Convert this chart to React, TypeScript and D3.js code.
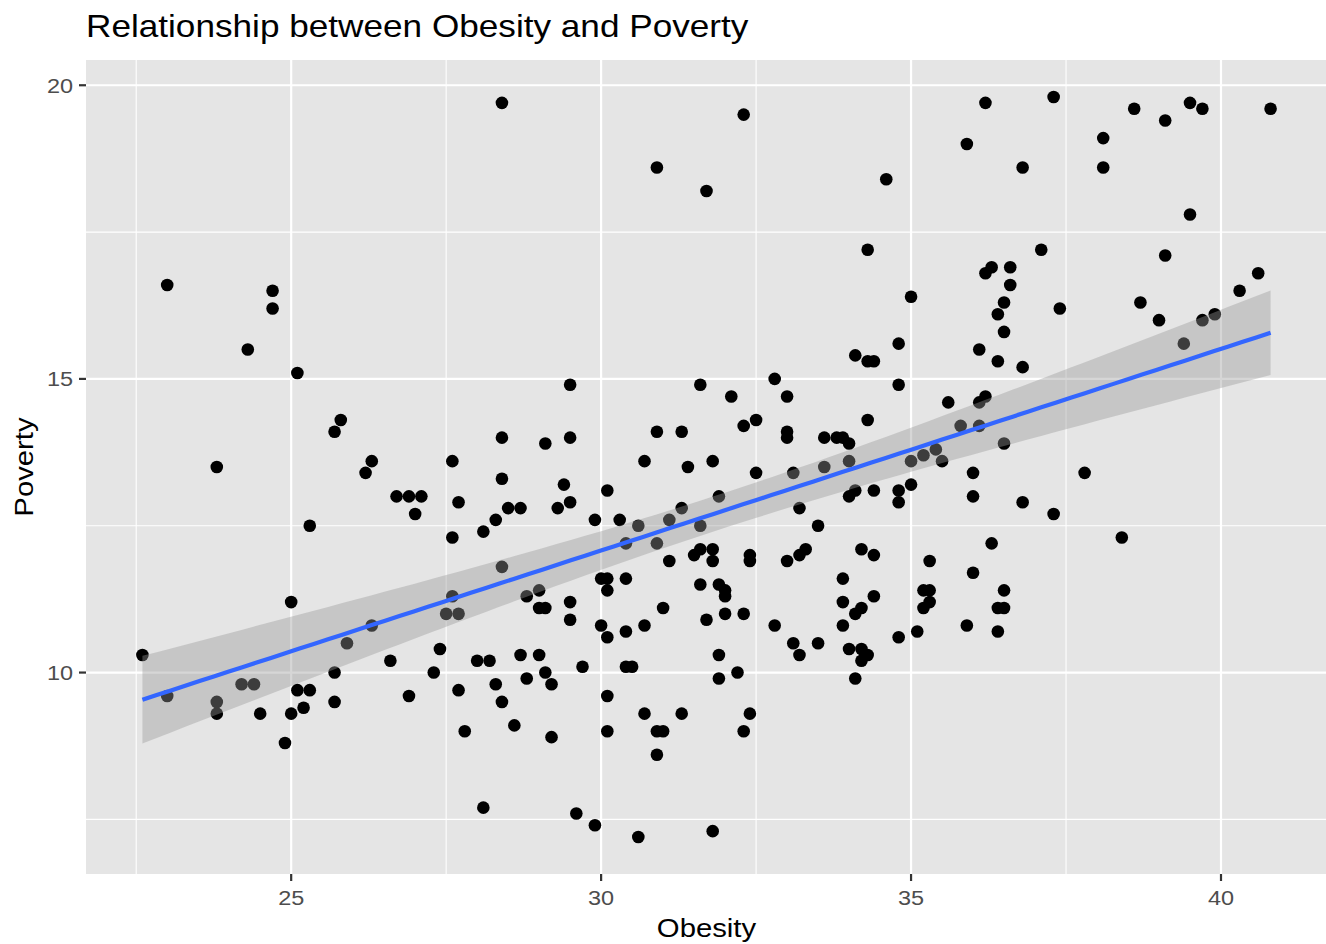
import React, { useEffect, useRef } from 'react';
import * as d3 from 'd3';

const obesity = [
  23.0, 24.7, 24.7, 24.3, 25.1, 25.8, 25.7, 26.3, 26.2, 23.8,
  26.7, 25.3, 25.0, 22.6, 26.3, 25.9, 26.6, 25.7, 23.0, 23.8,
  23.8, 24.2, 24.4, 25.1, 25.3, 24.5, 25.0, 25.2, 25.7, 24.9,
  28.4, 30.9, 31.7, 29.5, 31.6, 28.4, 29.1, 29.5, 27.6, 30.9,
  31.3, 30.7, 31.4, 31.8, 28.4, 26.9, 27.1, 27.0, 27.7, 27.6,
  28.1, 28.3, 28.5, 28.7, 28.4, 29.3, 29.4, 29.5, 30.1, 29.9,
  30.3, 30.6, 30.4, 30.9, 31.1, 31.3, 31.6, 31.5, 31.6, 31.8,
  31.8, 31.1, 31.6, 31.7, 27.6, 27.5, 27.7, 28.8, 29.0, 29.0,
  29.1, 29.5, 29.5, 30.0, 30.1, 30.1, 30.4, 30.0, 30.1, 30.4,
  30.7, 31.0, 27.4, 27.3, 26.9, 28.0, 28.2, 28.7, 29.0, 28.8,
  29.1, 29.2, 28.3, 27.7, 28.4, 29.7, 30.4, 30.5, 30.1, 30.7,
  31.3, 30.9, 31.0, 30.9, 30.1, 27.8, 28.6, 29.2, 28.1, 29.6,
  29.9, 30.6, 31.8,
  32.3, 36.2, 35.9, 36.8, 34.6, 34.3, 35.0, 36.2, 36.3, 36.6,
  36.6, 36.5, 36.4, 36.5, 36.1, 36.4, 36.8, 34.8, 34.1, 34.3,
  34.4, 34.8, 32.8, 32.1, 33.0, 32.3, 32.5, 33.0, 33.0, 33.6,
  33.8, 33.9, 34.0, 34.3, 35.6, 36.2, 36.1, 35.8, 36.1, 36.5,
  34.0, 33.6, 35.0, 35.2, 35.4, 35.5, 32.5, 33.1, 36.0, 31.9,
  34.0, 34.1, 34.4, 34.8, 34.8, 35.0, 36.0, 36.8, 33.2, 33.5,
  32.4, 32.4, 33.0, 33.2, 33.3, 34.2, 34.4, 33.9, 33.9, 34.2,
  34.1, 34.4, 33.9, 34.0, 34.2, 34.3, 34.2, 34.1, 33.5, 33.1,
  33.2, 32.8, 34.8, 35.1, 35.2, 35.3, 35.3, 35.2, 35.3, 35.9,
  36.0, 36.3, 36.5, 36.4, 36.5, 36.4, 31.9, 32.0, 32.0, 32.0,
  32.3, 31.9, 32.2, 31.9, 32.4, 32.3,
  37.3, 38.6, 39.1, 39.5, 39.7, 40.8, 38.1, 38.1, 39.5, 37.1,
  39.1, 40.6, 40.3, 38.7, 39.0, 39.7, 39.9, 39.4, 37.4, 37.8,
  37.3, 38.4,
];

const poverty = [
  16.6, 16.5, 16.2, 15.5, 15.1, 14.3, 14.1, 13.6, 13.4, 13.5,
  13.0, 12.5, 11.2, 10.3, 10.8, 10.5, 10.2, 10.0, 9.6, 9.5,
  9.3, 9.8, 9.8, 9.7, 9.7, 9.3, 9.3, 9.4, 9.5, 8.8,
  19.7, 18.6, 18.2, 14.9, 14.9, 14.0, 13.9, 14.0, 13.6, 14.1,
  14.1, 13.6, 13.5, 13.6, 13.3, 13.0, 13.0, 12.7, 12.9, 12.3,
  12.4, 12.6, 12.8, 12.8, 11.8, 12.8, 13.2, 12.9, 13.1, 12.6,
  12.6, 12.5, 12.2, 12.2, 12.6, 12.8, 12.5, 12.0, 12.1, 12.1,
  11.9, 11.9, 11.5, 10.9, 11.3, 11.0, 11.0, 11.3, 11.4, 11.1,
  11.1, 11.2, 10.9, 11.6, 11.6, 11.4, 11.6, 10.8, 10.6, 10.7,
  10.8, 11.1, 10.4, 10.0, 9.6, 10.2, 10.2, 10.3, 10.3, 9.9,
  10.0, 9.8, 9.8, 9.7, 9.5, 10.1, 10.1, 10.1, 9.6, 9.3,
  9.3, 9.0, 9.0, 8.6, 9.0, 9.0, 9.1, 8.9, 7.7, 7.6,
  7.4, 7.2, 7.3,
  19.5, 19.7, 19.0, 18.6, 18.4, 17.2, 16.4, 16.8, 16.9, 16.9,
  16.6, 16.3, 16.1, 15.8, 15.5, 15.3, 15.2, 15.6, 15.4, 15.3,
  15.3, 14.9, 15.0, 14.7, 14.7, 14.2, 14.3, 14.1, 14.0, 14.0,
  14.0, 14.0, 13.9, 14.3, 14.6, 14.7, 14.6, 14.2, 14.2, 13.9,
  13.6, 13.5, 13.6, 13.7, 13.8, 13.6, 13.4, 13.4, 13.4, 13.0,
  13.0, 13.1, 13.1, 13.1, 12.9, 13.2, 13.0, 12.9, 12.8, 12.5,
  12.0, 11.9, 11.9, 12.0, 12.1, 12.1, 12.0, 11.6, 11.2, 11.1,
  11.0, 11.3, 10.8, 10.4, 10.4, 10.3, 10.2, 9.9, 10.5, 10.5,
  10.3, 10.8, 10.6, 10.7, 11.4, 11.4, 11.2, 11.1, 11.9, 10.8,
  11.7, 12.2, 11.4, 11.1, 11.1, 10.7, 11.5, 11.4, 11.3, 11.0,
  11.0, 10.3, 10.0, 9.9, 9.3, 9.0,
  19.8, 19.6, 19.4, 19.7, 19.6, 19.6, 19.1, 18.6, 17.8, 17.2,
  17.1, 16.8, 16.5, 16.3, 16.0, 16.0, 16.1, 15.6, 16.2, 13.4,
  12.7, 12.3,
];

const xMajor = [25, 30, 35, 40];
const xMinor = [22.5, 27.5, 32.5, 37.5];
const yMajor = [10, 15, 20];
const yMinor = [7.5, 12.5, 17.5];

const font = '"Liberation Sans", Arial, Helvetica, sans-serif';
// the original font runs a bit wider than Liberation Sans at the same height
const stretch = 1.145;

const App = () => {
  const ref = useRef<SVGSVGElement>(null);

  useEffect(() => {
    const width = 1326;
    const height = 944;
    const margin = { top: 60, right: -1, bottom: 70, left: 86 };

    const svg = d3.select(ref.current);
    svg.selectAll('*').remove();
    svg.attr('width', width).attr('height', height);

    // text helper: place at (x, y), optional rotation, widened horizontally
    const label = (txt: string, x: number, y: number, size: number, color: string,
                   anchor = 'start', rotate = 0, dy = '0') => {
      svg.append('g')
        .attr('transform', `translate(${x},${y}) rotate(${rotate}) scale(${stretch},1)`)
        .append('text')
        .attr('text-anchor', anchor)
        .attr('dy', dy)
        .attr('font-family', font)
        .attr('font-size', size)
        .attr('fill', color)
        .text(txt);
    };

    const data = obesity.map((o, i) => ({ x: o, y: poverty[i] }));

    // ggplot-style 5% expansion
    const xExt = d3.extent(obesity) as [number, number];
    const yExt = d3.extent(poverty) as [number, number];
    const xPad = (xExt[1] - xExt[0]) * 0.05;
    const yPad = (yExt[1] - yExt[0]) * 0.05;

    const x = d3.scaleLinear()
      .domain([xExt[0] - xPad, xExt[1] + xPad])
      .range([margin.left, width - margin.right]);
    const y = d3.scaleLinear()
      .domain([yExt[0] - yPad, yExt[1] + yPad])
      .range([height - margin.bottom, margin.top]);

    // panel
    svg.append('rect')
      .attr('x', margin.left)
      .attr('y', margin.top)
      .attr('width', width - margin.right - margin.left)
      .attr('height', height - margin.bottom - margin.top)
      .attr('fill', '#E5E5E5');

    const grid = svg.append('g').attr('stroke', '#FFFFFF');
    xMinor.forEach(v => grid.append('line')
      .attr('x1', x(v)).attr('x2', x(v))
      .attr('y1', margin.top).attr('y2', height - margin.bottom)
      .attr('stroke-width', 1.1));
    yMinor.forEach(v => grid.append('line')
      .attr('y1', y(v)).attr('y2', y(v))
      .attr('x1', margin.left).attr('x2', width - margin.right)
      .attr('stroke-width', 1.1));
    xMajor.forEach(v => grid.append('line')
      .attr('x1', x(v)).attr('x2', x(v))
      .attr('y1', margin.top).attr('y2', height - margin.bottom)
      .attr('stroke-width', 2.2));
    yMajor.forEach(v => grid.append('line')
      .attr('y1', y(v)).attr('y2', y(v))
      .attr('x1', margin.left).attr('x2', width - margin.right)
      .attr('stroke-width', 2.2));

    // points
    svg.append('g')
      .selectAll('circle')
      .data(data)
      .enter()
      .append('circle')
      .attr('cx', d => x(d.x))
      .attr('cy', d => y(d.y))
      .attr('r', 6.3)
      .attr('fill', '#000000');

    // linear fit with 95% confidence band (geom_smooth(method = "lm"))
    const n = data.length;
    const mx = d3.mean(obesity) as number;
    const my = d3.mean(poverty) as number;
    const sxx = d3.sum(obesity, v => (v - mx) ** 2);
    const sxy = d3.sum(data, d => (d.x - mx) * (d.y - my));
    const slope = sxy / sxx;
    const intercept = my - slope * mx;
    const rss = d3.sum(data, d => (d.y - (intercept + slope * d.x)) ** 2);
    const s = Math.sqrt(rss / (n - 2));
    const tCrit = 1.9695; // qt(0.975, ~249)

    const grid80 = d3.range(80).map(i => xExt[0] + (xExt[1] - xExt[0]) * i / 79);
    const fit = grid80.map(gx => {
      const fy = intercept + slope * gx;
      const se = s * Math.sqrt(1 / n + (gx - mx) ** 2 / sxx);
      return { x: gx, y: fy, lo: fy - tCrit * se, hi: fy + tCrit * se };
    });

    svg.append('path')
      .datum(fit)
      .attr('d', d3.area<any>().x(d => x(d.x)).y0(d => y(d.lo)).y1(d => y(d.hi)))
      .attr('fill', '#999999')
      .attr('fill-opacity', 0.4);

    svg.append('path')
      .datum(fit)
      .attr('d', d3.line<any>().x(d => x(d.x)).y(d => y(d.y)))
      .attr('fill', 'none')
      .attr('stroke', '#3366FF')
      .attr('stroke-width', 4.2);

    // axes
    const bottom = height - margin.bottom;
    xMajor.forEach(v => {
      svg.append('line')
        .attr('x1', x(v)).attr('x2', x(v))
        .attr('y1', bottom).attr('y2', bottom + 7)
        .attr('stroke', '#333333').attr('stroke-width', 2.2);
      label(String(v), x(v), bottom + 31, 20.5, '#4D4D4D', 'middle');
    });

    yMajor.forEach(v => {
      svg.append('line')
        .attr('x1', margin.left - 7).attr('x2', margin.left)
        .attr('y1', y(v)).attr('y2', y(v))
        .attr('stroke', '#333333').attr('stroke-width', 2.2);
      label(String(v), margin.left - 13, y(v), 20.5, '#4D4D4D', 'end', 0, '0.36em');
    });

    // titles
    label('Obesity', (margin.left + width - margin.right) / 2, 937, 25.6, '#000000', 'middle');
    label('Poverty', 33, (margin.top + height - margin.bottom) / 2, 25.6, '#000000', 'middle', -90);
    label('Relationship between Obesity and Poverty', margin.left, 37, 30.7, '#000000');
  }, []);

  return (
    <svg
      ref={ref}
      style={{ position: 'absolute', left: 0, top: 0, display: 'block', background: '#FFFFFF' }}
    />
  );
};

export default App;
